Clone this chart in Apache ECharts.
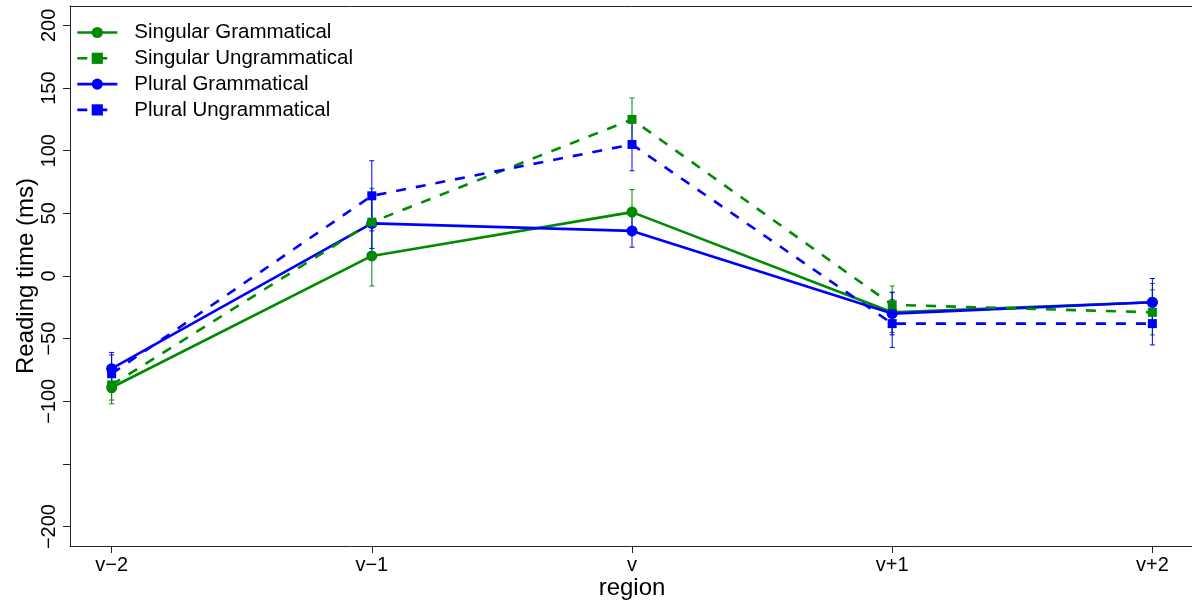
<!DOCTYPE html>
<html>
<head>
<meta charset="utf-8">
<script src="https://cdn.jsdelivr.net/npm/echarts@6/dist/echarts.min.js"></script>
<style>
  html, body { margin: 0; padding: 0; background: #fff; }
  #chart { width: 1192px; height: 603px; }
</style>
</head>
<body>
<div id="chart"></div>
<script>
// Regions of the sentence, left to right
const regions = ['v\u22122', 'v\u22121', 'v', 'v+1', 'v+2'];

// Mean reading time (ms) per condition and region
const singGram   = [-89, 16, 51, -29, -21];
const singUngram = [-87, 43, 125, -23, -29];
const plurGram   = [-74, 42, 36, -30, -21];
const plurUngram = [-78, 64, 105, -38, -38];

// Standard errors (ms)
const singGramSE   = [13, 24, 18, 16, 15];
const singUngramSE = [12, 27, 17, 15, 18];
const plurGramSE   = [13, 20, 13, 17, 19];
const plurUngramSE = [15, 28, 21, 19, 17];

// Axis ticks
const yTicks  = [-200, -150, -100, -50, 0, 50, 100, 150, 200];
const yLabels = [-200, -100, -50, 0, 50, 100, 150, 200];

const GREEN = '#008B00';
const BLUE  = '#0000FF';
const FONT  = 'Liberation Sans, Arial, Helvetica, sans-serif';

const conditions = [
  { name: 'Singular Grammatical',   mean: singGram,   se: singGramSE,   color: GREEN, symbol: 'circle', dashed: false, size: 11 },
  { name: 'Singular Ungrammatical', mean: singUngram, se: singUngramSE, color: GREEN, symbol: 'rect',   dashed: true,  size: 9 },
  { name: 'Plural Grammatical',     mean: plurGram,   se: plurGramSE,   color: BLUE,  symbol: 'circle', dashed: false, size: 11 },
  { name: 'Plural Ungrammatical',   mean: plurUngram, se: plurUngramSE, color: BLUE,  symbol: 'rect',   dashed: true,  size: 9 }
];

// Drawing order: lines on top of one another in this sequence
const drawOrder = [0, 2, 1, 3];

const series = [];

// Error bars (one custom series per condition), drawn beneath the lines
conditions.forEach(function (c) {
  series.push({
    type: 'custom',
    name: c.name + ' SE',
    z: 1,
    silent: true,
    data: regions.map(function (r, i) { return [i, c.mean[i] - c.se[i], c.mean[i] + c.se[i]]; }),
    renderItem: function (params, api) {
      const x = api.value(0);
      const lo = api.coord([x, api.value(1)]);
      const hi = api.coord([x, api.value(2)]);
      const w = 2.5;
      const style = { stroke: c.color, lineWidth: 1, fill: null };
      return {
        type: 'group',
        children: [
          { type: 'line', shape: { x1: lo[0], y1: lo[1], x2: hi[0], y2: hi[1] }, style: style },
          { type: 'line', shape: { x1: lo[0] - w, y1: lo[1], x2: lo[0] + w, y2: lo[1] }, style: style },
          { type: 'line', shape: { x1: hi[0] - w, y1: hi[1], x2: hi[0] + w, y2: hi[1] }, style: style }
        ]
      };
    }
  });
});

// Mean lines with markers
drawOrder.forEach(function (k, n) {
  const c = conditions[k];
  series.push({
    type: 'line',
    name: c.name,
    z: 3 + n,
    data: regions.map(function (r, i) { return [i, c.mean[i]]; }),
    symbol: c.symbol,
    symbolSize: c.size,
    showSymbol: true,
    color: c.color,
    lineStyle: { color: c.color, width: 2.6, type: c.dashed ? [10, 10] : 'solid' },
    itemStyle: { color: c.color },
    emphasis: { disabled: true },
    animation: false
  });
});

const axisLineStyle = { color: '#222', width: 1 };

const chart = echarts.init(document.getElementById('chart'), null, { renderer: 'canvas' });
chart.setOption({
  animation: false,
  backgroundColor: '#fff',
  grid: {
    left: 70, right: -2, top: 6, bottom: 57,
    outerBoundsMode: 'none',
    containLabel: false,
    show: false
  },
  legend: {
    data: conditions.map(function (c) { return c.name; }),
    orient: 'vertical',
    left: 76, top: 22,
    padding: 0,
    itemWidth: 40, itemHeight: 14, itemGap: 4.8,
    lineStyle: { width: 2.6 },
    textStyle: { fontFamily: FONT, fontSize: 20.5, color: '#000', lineHeight: 20, padding: [0, 0, 0, 12] },
    selectedMode: false
  },
  xAxis: [{
    type: 'value',
    min: -0.16, max: 4.16,
    name: 'region',
    nameLocation: 'middle',
    nameGap: 30,
    nameMoveOverlap: false,
    nameTextStyle: { fontFamily: FONT, fontSize: 24, color: '#000' },
    axisLine: { show: true, onZero: false, lineStyle: axisLineStyle },
    axisTick: { show: true, length: 7, customValues: [0, 1, 2, 3, 4], lineStyle: { color: '#222' } },
    axisLabel: {
      customValues: [0, 1, 2, 3, 4],
      margin: 9,
      fontFamily: FONT, fontSize: 20, color: '#000',
      formatter: function (v) { return regions[Math.round(v)]; }
    },
    splitLine: { show: false }
  }, {
    // top edge of the plot frame
    type: 'value',
    position: 'top',
    min: -0.16, max: 4.16,
    axisLine: { show: true, onZero: false, lineStyle: axisLineStyle },
    axisTick: { show: false },
    axisLabel: { show: false },
    splitLine: { show: false }
  }],
  yAxis: {
    type: 'value',
    min: -215.5, max: 215.5,
    name: 'Reading time (ms)',
    nameLocation: 'middle',
    nameGap: 32,
    nameMoveOverlap: false,
    nameTextStyle: { fontFamily: FONT, fontSize: 24, color: '#000' },
    axisLine: { show: true, onZero: false, lineStyle: axisLineStyle },
    axisTick: { show: true, length: 7, customValues: yTicks, lineStyle: { color: '#222' } },
    axisLabel: {
      customValues: yLabels,
      rotate: 90,
      margin: 11,
      fontFamily: FONT, fontSize: 20, color: '#000',
      formatter: function (v) { return String(v).replace('-', '\u2212'); }
    },
    splitLine: { show: false }
  },
  series: series
});
</script>
</body>
</html>
